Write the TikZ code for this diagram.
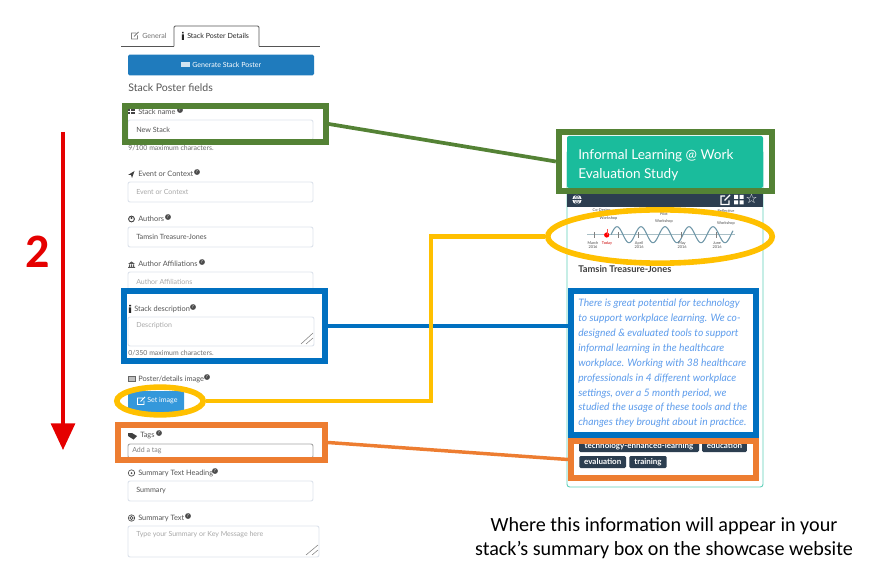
\documentclass[tikz,border=0pt]{standalone}
\usepackage{fontspec}
\setmainfont{Lato}
\newfontfamily\callout{Carlito}
\newfontfamily\symb{DejaVu Sans}
\usetikzlibrary{arrows.meta,shapes.geometric}
\definecolor{fgreen}{HTML}{548235}
\definecolor{fblue}{HTML}{0070C0}
\definecolor{fyellow}{HTML}{FFC000}
\definecolor{forange}{HTML}{ED7D31}
\definecolor{btnblue}{HTML}{1F7BBD}
\definecolor{btnlight}{HTML}{3498DB}
\definecolor{teal}{HTML}{1ABC9C}
\definecolor{navy}{HTML}{2C3E50}
\definecolor{uigrey}{HTML}{555555}
\definecolor{hintgrey}{HTML}{A8A8A8}
\definecolor{fieldline}{HTML}{DDE3EC}
\definecolor{descblue}{HTML}{5D9CEC}
\definecolor{wave}{HTML}{6F97A8}
\definecolor{axisc}{HTML}{A9BFC6}
\tikzset{
  x=0.75pt,y=-0.75pt,
  frame/.style={draw,line width=4.3pt,inner sep=0,fill=none},
  ring/.style={draw,ellipse,line width=4.2pt,inner sep=0,fill=none},
  field/.style={draw=fieldline,line width=0.7pt,rounded corners=1.5pt,fill=white},
  lbl/.style={inner sep=0,anchor=west,font=\fontsize{5.55}{7}\selectfont,text=uigrey},
  hint/.style={inner sep=0,anchor=west,font=\fontsize{5.25}{7}\selectfont,text=hintgrey},
  val/.style={inner sep=0,anchor=west,font=\fontsize{5.4}{7}\selectfont,text=uigrey},
  small/.style={inner sep=0,anchor=west,font=\fontsize{5.2}{7}\selectfont,text=uigrey!85},
  help/.style={circle,fill=uigrey!90!black,inner sep=0,minimum size=4.4pt,text=white,font=\fontsize{3.4}{4}\selectfont},
  tag/.style={fill=navy,rounded corners=1pt,text=white,inner sep=0,font=\fontsize{6}{7}\bfseries\selectfont},
  tl/.style={inner sep=0,align=center,font=\fontsize{2.9}{3.5}\selectfont,text=black!70},
  desc/.style={inner sep=0,anchor=west,font=\fontsize{7.7}{9}\itshape\selectfont,text=descblue},
  tabtext/.style={inner sep=0,anchor=west,font=\fontsize{5.3}{7}\selectfont},
}
\begin{document}
\begin{tikzpicture}
\useasboundingbox (0,0) rectangle (896,577);
\fill[white] (0,0) rectangle (896,577);
% tabs
\draw[uigrey,line width=0.7pt] (121,46.5) -- (174,46.5) (259,46.5) -- (320,46.5);
\draw[uigrey,line width=0.7pt,rounded corners=1pt] (174,46.5) -- (174,26) -- (259,26) -- (259,46.5);
\node[tabtext,text=black!55] (tab1) at (142,36) {General};
\node[tabtext,text=black!85] (tab2) at (187,36) {Stack Poster Details};
\draw[black!50,line width=0.6pt] (136,33) -- (131.5,33) -- (131.5,39) -- (137.5,39) -- (137.5,35.5) (134,36.5) -- (138.5,32);
\fill[black!85] (182,32) rectangle (183.6,33.5) (181.8,34.5) rectangle (183.8,40);
% generate
\node[fill=btnblue,rounded corners=1pt,minimum width=139.5pt,minimum height=15.4pt,inner sep=0] (gen) at (221,65) {};
\node[inner sep=0,anchor=west,text=white,font=\fontsize{5.3}{7}\selectfont] (gent) at (192,65) {Generate Stack Poster};
\fill[white,opacity=.8] (181,62.5) rectangle (190,67);
\node[inner sep=0,anchor=west,font=\fontsize{7.9}{9}\selectfont,text=uigrey] (spf) at (128,87.5) {Stack Poster fields};
% stack name
\foreach \ix in {128,130.5,133} \foreach \iy in {109,112} \fill[uigrey!80!black] (\ix,\iy) rectangle ++(2,2.4);
\node[lbl] (l1) at (138,112) {Stack name};
\node[help] (h1) at (180,110) {?};
\filldraw[field] (128,120) rectangle (313,140);
\node[val] (v1) at (136,130) {New Stack};
\node[small] (s1) at (128,148) {9/100 maximum characters.};
% event
\fill[black!75] (128,175) -- (134.5,171) -- (132,178) -- (131,175) -- cycle;
\node[lbl] (l2) at (138,174) {Event or Context};
\node[help] (h2) at (197,172) {?};
\filldraw[field] (128,182) rectangle (313,202);
\node[hint] (v2) at (136,192) {Event or Context};
% authors
\draw[black!75,line width=0.7pt] (131.5,219) circle (2.9);
\fill[black!75] (131.5,218) circle (1.2);
\node[lbl] (l3) at (138,219) {Authors};
\node[help] (h3) at (168,217) {?};
\filldraw[field] (128,227) rectangle (313,247);
\node[val] (v3) at (136,237) {Tamsin Treasure-Jones};
% affiliations
\fill[black!65] (128,264) -- (131.5,261.5) -- (135,264) -- cycle (128,267) rectangle (135,268);
\fill[black!65] (129,264.5) rectangle (130,267) (131,264.5) rectangle (132,267) (133,264.5) rectangle (134,267);
\node[lbl] (l4) at (138,264) {Author Affiliations};
\node[help] (h4) at (202,262) {?};
\filldraw[field] (128,272) rectangle (313,292);
\node[hint] (v4) at (136,282) {Author Affiliations};
% description
\fill[black!85] (129,305) rectangle (131,306.5) (128.8,307.5) rectangle (131.2,313);
\node[lbl] (l5) at (134,309) {Stack description};
\node[help] (h5) at (193,307) {?};
\filldraw[field] (128,317) rectangle (314,346);
\node[hint] (v5) at (136,326) {Description};
\draw[black!50,line width=0.4pt] (301,344) -- (313,333) (306,344) -- (313,338);
\node[small] (s5) at (128,353) {0/350 maximum characters.};
% poster image
\draw[black!60,line width=0.6pt,fill=black!25] (128,376) rectangle (135,381);
\node[lbl] (l6) at (138,379) {Poster/details image};
\node[help] (h6) at (207,377) {?};
\node[fill=btnlight,rounded corners=1pt,minimum width=42pt,minimum height=15.7pt,inner sep=0] (setimg) at (156,401.5) {};
\node[inner sep=0,anchor=west,text=white,font=\fontsize{5.3}{7}\selectfont] (sett) at (147,401) {Set image};
\draw[white,line width=0.6pt] (143,398) -- (137.5,398) -- (137.5,404.5) -- (144,404.5) -- (144,400.5) (140.5,401.5) -- (145,397);
% tags
\fill[black!75] (128,433) -- (132,433) -- (137,436) -- (133.5,439.5) -- (128,436) -- cycle;
\node[lbl] (l7) at (140,436) {Tags};
\node[help] (h7) at (159,433) {?};
\filldraw[draw=black!35,line width=0.7pt,rounded corners=1.5pt,fill=white] (128,444) rectangle (313,458);
\node[hint,text=black!50] (v7) at (132,451) {Add a tag};
% summary heading
\draw[black!70,line width=0.5pt] (131.5,473) circle (3.2);
\fill[black!70] (131.5,473) circle (1);
\node[lbl] (l8) at (138,473) {Summary Text Heading};
\node[help] (h8) at (215,471) {?};
\filldraw[field] (128,481) rectangle (313,501);
\node[val] (v8) at (136,491) {Summary};
% summary text
\draw[black!70,line width=0.5pt] (131.5,518) circle (3.2) circle (1.6);
\node[lbl] (l9) at (138,518) {Summary Text};
\node[help] (h9) at (188,516) {?};
\filldraw[field] (128,526) rectangle (319,557);
\node[hint] (v9) at (136,535) {Type your Summary or Key Message here};
\draw[black!50,line width=0.4pt] (306,555) -- (318,545) (312,555) -- (318,550);

% card
\draw[teal!70,line width=0.7pt,rounded corners=2pt] (567,150) rectangle (763,487);
\fill[navy] (567,193) rectangle (763,207);
\node[fill=teal,rounded corners=1.5pt,minimum width=147pt,minimum height=39pt,inner sep=0] (hdr) at (665,162) {};
\node[inner sep=0,anchor=west,text=white,font=\fontsize{10.2}{14.2}\selectfont,align=left] (title) at (578,165) {Informal Learning @ Work\\Evaluation Study};
% card icons
\fill[white] (577,199.5) circle (4.8);
\draw[navy,line width=0.4pt] (577,194.7) -- (577,204.3) (572.2,199.5) -- (581.8,199.5) (577,199.5) ellipse (2.3 and 4.8);
\draw[white,line width=1pt] (725,196) -- (721,196) -- (721,204.5) -- (729,204.5) -- (729,200.5) (724.5,200.5) -- (730,195);
\fill[white] (734,195) rectangle (738,199) (739.5,195) rectangle (743.5,199) (734,200.5) rectangle (738,204.5) (739.5,200.5) rectangle (743.5,204.5);
\node[inner sep=0,text=white,font=\symb\fontsize{10}{10}\selectfont] (star) at (751.5,199) {☆};
% timeline
\draw[axisc,line width=1pt] (587,234.7) -- (735,234.7);
\draw[wave,line width=0.8pt,smooth,samples=140,domain=611:733] plot (\x,{234.7-8*sin((\x-611)/24*360)});
\foreach \p in {594,618,638,681,716} \draw[black!50,line width=0.4pt] (\p,232) -- (\p,238);
\fill[red] (606.7,235) circle (2.6);
\draw[red!70,line width=0.3pt] (606.7,229) -- (606.7,235);
\node[tl] (t1) at (593,245) {March\\2016};
\node[tl,text=red!80!black] (t2) at (607,243) {Today};
\node[tl] (t3) at (639,245) {April\\2016};
\node[tl] (t4) at (682,245) {May\\2016};
\node[tl] (t5) at (717,245) {June\\2016};
\node[tl,align=right] (t6) at (605,214.5) {Co-Design\hspace*{5pt}\\[2pt]\hspace*{5pt}Workshop};
\node[tl] (t7) at (664,218) {Pilot\\[1.5pt]Workshop};
\node[tl] (t8) at (726,217.5) {Reflective\\[6pt]Workshop};
\node[inner sep=0,anchor=west,text=black!75,font=\fontsize{7}{9}\bfseries\selectfont] (author) at (578,269) {Tamsin Treasure-Jones};
% description text
\foreach \yy/\tt in {304/{There is great potential for technology},318.5/{to support workplace learning. We co-},333.5/{designed \& evaluated tools to support},348.5/{informal learning in the healthcare},363.5/{workplace. Working with 38 healthcare},378.5/{professionals in 4 different workplace},393.5/{settings, over a 5 month period, we},408/{studied the usage of these tools and the},423/{changes they brought about in practice.}}
  \node[desc] at (578,\yy) {\tt};
% tags
\node[tag,minimum width=90pt,minimum height=9pt] (g1) at (639,446) {technology-enhanced-learning};
\node[tag,minimum width=33.7pt,minimum height=9pt] (g2) at (724.5,446) {education};
\node[tag,minimum width=35pt,minimum height=9pt] (g3) at (602.7,462) {evaluation};
\node[tag,minimum width=28pt,minimum height=9pt] (g4) at (648,462) {training};
\fill[white] (571,439) rectangle (756,442);

% frames
\node[frame,draw=fgreen,minimum width=150.7pt,minimum height=27.2pt] (greenL) at (225.5,124) {};
\node[frame,draw=fgreen,minimum width=160.2pt,minimum height=44.5pt] (greenR) at (665.5,161.5) {};
\node[frame,draw=fblue,minimum width=151pt,minimum height=52.7pt] (blueL) at (224.5,326) {};
\node[frame,draw=fblue,minimum width=139pt,minimum height=108.2pt] (blueR) at (663.5,363) {};
\node[ring,draw=fyellow,minimum width=64.8pt,minimum height=20.8pt] (yelL) at (160,401) {};
\node[ring,draw=fyellow,minimum width=168.3pt,minimum height=40pt] (yelR) at (660,236.5) {};
\node[frame,draw=forange,minimum width=155.5pt,minimum height=26.4pt] (orL) at (221.5,442.5) {};
\node[frame,draw=forange,minimum width=139pt,minimum height=28pt] (orR) at (663.5,459.5) {};
% connectors
\draw[line width=2.8pt,fgreen] (greenL.east) -- (greenR.west);
\draw[line width=3pt,fblue] (blueL.east) -- (blueR.west |- blueL.east);
\coordinate (bendA) at (431,401);
\draw[line width=3.6pt,fyellow] (yelL.east) -- (bendA) -- (bendA |- yelR.west) -- (yelR.west);
\draw[line width=2.6pt,forange] (orL.east) -- (orR.west);
% red arrow
\coordinate (arrTop) at (63,132);
\coordinate (arrEnd) at (63,450);
\draw[red!90!black,line width=2.3pt,-{Triangle[length=20pt,width=18pt]}] (arrTop) -- (arrEnd);
\node[inner sep=0,text=red!90!black,font=\callout\fontsize{36}{40}\bfseries\selectfont] (two) at (38,252) {2};
\node[inner sep=0,align=center,text=black,font=\callout\fontsize{15.1}{18}\selectfont] (cap) at (664,538) {Where this information will appear in your\\stack’s summary box on the showcase website};
\end{tikzpicture}
\end{document}
